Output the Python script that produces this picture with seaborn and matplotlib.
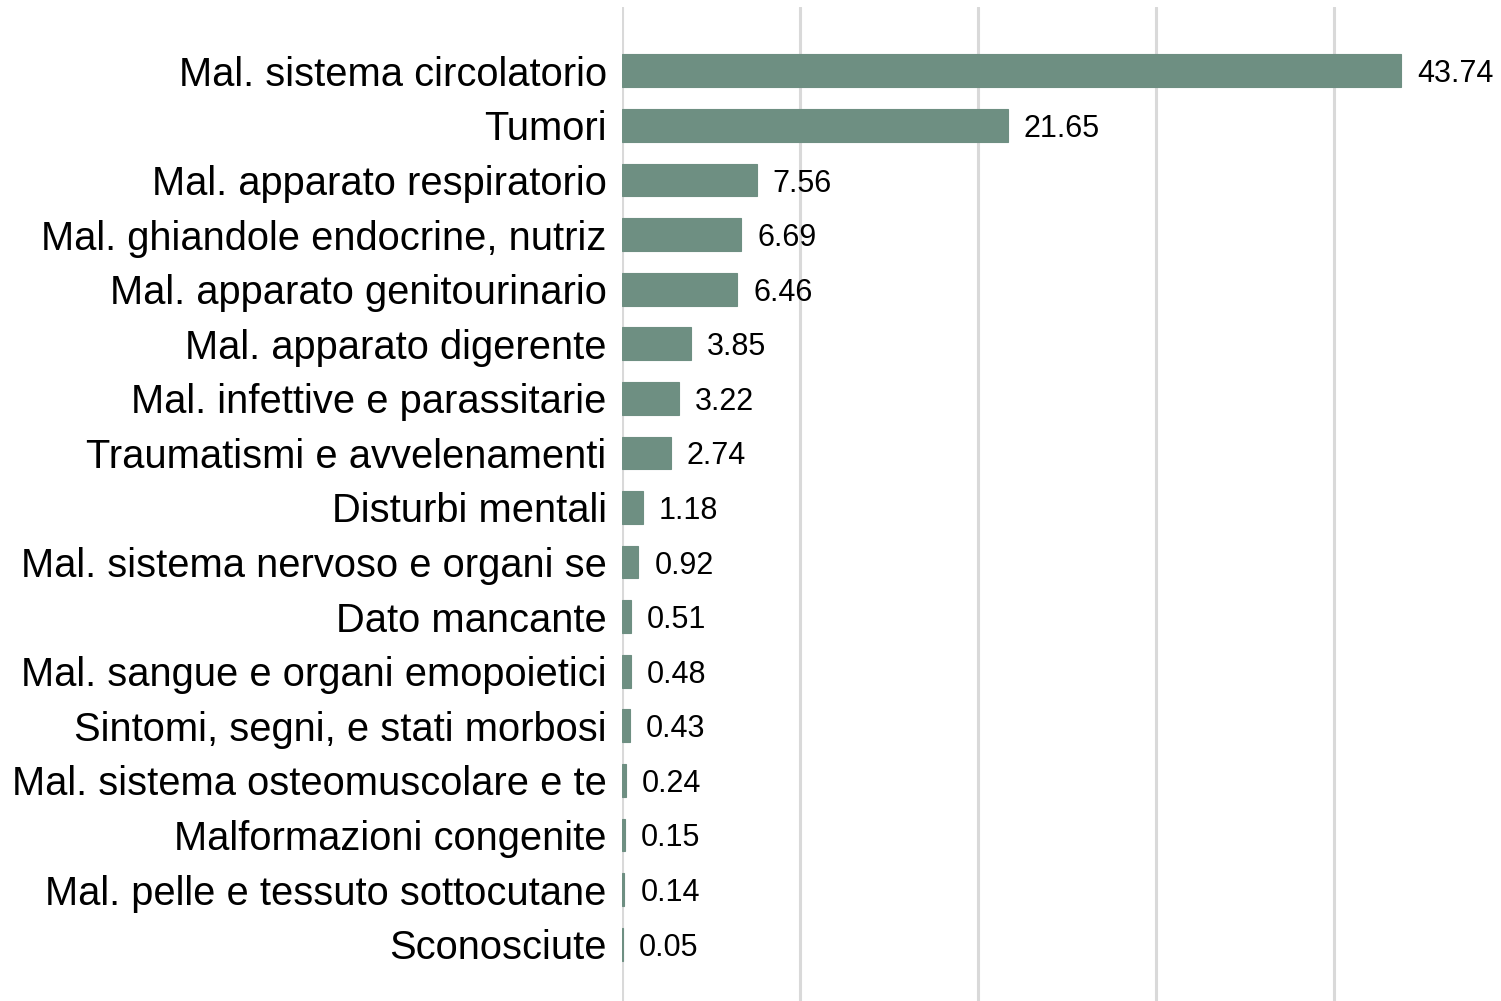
import matplotlib

matplotlib.use("Agg")
import matplotlib.pyplot as plt
import pandas as pd
import seaborn as sns

# Cause-of-death shares (%), top to bottom as shown
causes = [
    "Mal. sistema circolatorio",
    "Tumori",
    "Mal. apparato respiratorio",
    "Mal. ghiandole endocrine, nutriz",
    "Mal. apparato genitourinario",
    "Mal. apparato digerente",
    "Mal. infettive e parassitarie",
    "Traumatismi e avvelenamenti",
    "Disturbi mentali",
    "Mal. sistema nervoso e organi se",
    "Dato mancante",
    "Mal. sangue e organi emopoietici",
    "Sintomi, segni, e stati morbosi",
    "Mal. sistema osteomuscolare e te",
    "Malformazioni congenite",
    "Mal. pelle e tessuto sottocutane",
    "Sconosciute",
]
shares = [43.74, 21.65, 7.56, 6.69, 6.46, 3.85, 3.22, 2.74, 1.18,
          0.92, 0.51, 0.48, 0.43, 0.24, 0.15, 0.14, 0.05]
grid_ticks = [0, 10, 20, 30, 40]

df = pd.DataFrame({"cause": causes, "share": shares})

sns.set_theme(style="white")
plt.rcParams["font.family"] = ["Liberation Sans", "DejaVu Sans"]

fig = plt.figure(figsize=(15.01, 10.01), dpi=100)
ax = fig.add_axes([622 / 1501, -7 / 1001, 890.5 / 1501, 1001 / 1001])

sns.barplot(data=df, y="cause", x="share", orient="h", color="#6E8F82",
            saturation=1, width=0.6, edgecolor="#6E8F82", linewidth=0.8,
            ax=ax)

ax.set_xlim(0, 50)
ax.set_ylim(len(causes) - 1 + 1.17, -1.17)
ax.set_xticks(grid_ticks)
ax.xaxis.grid(True, color="#D9D9D9", linewidth=2.2)
ax.set_axisbelow(True)
ax.tick_params(axis="x", bottom=False, labelbottom=False)
ax.tick_params(axis="y", left=False, length=0, labelsize=28.7, pad=11,
               labelcolor="black")
ax.set_xlabel("")
ax.set_ylabel("")
for s in ax.spines.values():
    s.set_visible(False)

texts = ax.bar_label(ax.containers[0], labels=[f"{v:.2f}" for v in shares],
                     padding=11.5, fontsize=22, color="black")
for t in texts:
    t.set_va("center_baseline")

fig.savefig("out.png", dpi=100)
